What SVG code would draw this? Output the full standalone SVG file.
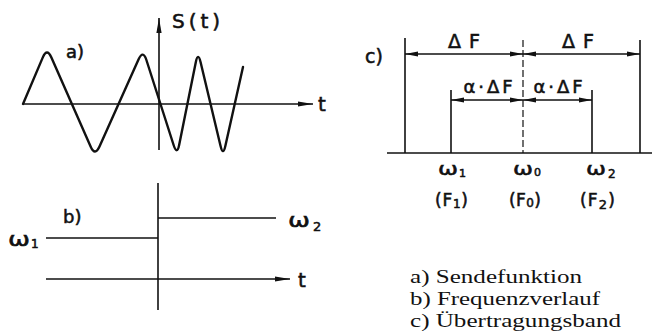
<svg xmlns="http://www.w3.org/2000/svg" width="653" height="333" viewBox="0 0 653 333">
<style>
.ln{stroke:#111;stroke-width:1.6;fill:none}
.wv{stroke:#111;stroke-width:2.4;fill:none;stroke-linejoin:round;stroke-linecap:round}
.hl{font-family:"DejaVu Sans","Liberation Sans",sans-serif;fill:#111;stroke:#111;stroke-width:0.55}
.cap{font-family:"Liberation Serif","DejaVu Serif",serif;fill:#111;font-size:18px}
</style>
<defs>
<marker id="ah" viewBox="0 -3 16 6" refX="15" refY="0" markerWidth="16" markerHeight="6" markerUnits="userSpaceOnUse" orient="auto-start-reverse" overflow="visible">
<path d="M0,-2.6 L15,0 L0,2.6 Z" fill="#111"/>
</marker>
<marker id="dh" viewBox="0 -3 14 6" refX="13" refY="0" markerWidth="14" markerHeight="6" markerUnits="userSpaceOnUse" orient="auto-start-reverse" overflow="visible">
<path d="M0,-2.4 L13,0 L0,2.4 Z" fill="#111"/>
</marker>
</defs>
<rect width="653" height="333" fill="#fff"/>

<g id="panel-a">
<line class="ln" x1="23" y1="104" x2="313" y2="104" marker-end="url(#ah)"/>
<line class="ln" x1="159" y1="150" x2="159" y2="18" marker-end="url(#ah)"/>
<path class="wv" d="M23,104 L42.7,57.6 Q47,47.5 51.4,57.6 L90.6,146.4 Q95,156.5 99.5,146.5 L138.5,59.5 Q143,49.5 146.4,60 L173.6,145 Q177,155.5 179.2,144.7 L195.8,62.3 Q198,51.5 200.6,62.2 L220.5,145.8 Q223,156.5 225.4,145.8 L243,67"/>
<text class="hl" x="172" y="28" font-size="20" textLength="48" lengthAdjust="spacing">S(t)</text>
<text class="hl" x="66" y="58" font-size="18">a)</text>
<text class="hl" x="318" y="111" font-size="20">t</text>
</g>

<g id="panel-b">
<line class="ln" x1="158" y1="183" x2="158" y2="310"/>
<line class="ln" x1="46" y1="238" x2="158" y2="238"/>
<line class="ln" x1="158" y1="218" x2="276" y2="218"/>
<line class="ln" x1="46" y1="279" x2="290" y2="279" marker-end="url(#ah)"/>
<text class="hl" x="63" y="223" font-size="18">b)</text>
<text class="hl" x="8" y="246" font-size="20" textLength="22" lengthAdjust="spacingAndGlyphs">ω</text>
<text class="hl" x="31" y="248" font-size="12">1</text>
<text class="hl" x="288" y="227" font-size="20" textLength="22" lengthAdjust="spacingAndGlyphs">ω</text>
<text class="hl" x="313" y="231" font-size="13">2</text>
<text class="hl" x="298" y="287" font-size="20">t</text>
</g>

<g id="panel-c">
<line class="ln" x1="387" y1="153" x2="652" y2="153"/>
<line class="ln" x1="405" y1="38" x2="405" y2="153"/>
<line class="ln" x1="640" y1="40" x2="640" y2="153"/>
<line class="ln" x1="451" y1="90" x2="451" y2="153"/>
<line class="ln" x1="592" y1="90" x2="592" y2="153"/>
<line x1="523" y1="40" x2="523" y2="153" stroke="#111" stroke-width="1.2" stroke-dasharray="7,3"/>
<text class="hl" x="365" y="63" font-size="19">c)</text>
<text class="hl" x="464" y="48" font-size="19" text-anchor="middle" textLength="32" lengthAdjust="spacing">ΔF</text>
<text class="hl" x="578" y="48" font-size="19" text-anchor="middle" textLength="32" lengthAdjust="spacing">ΔF</text>
<text class="hl" x="488" y="93" font-size="18" text-anchor="middle" textLength="49" lengthAdjust="spacing">α·ΔF</text>
<text class="hl" x="558" y="93" font-size="18" text-anchor="middle" textLength="49" lengthAdjust="spacing">α·ΔF</text>
<text class="hl" x="438" y="175" font-size="18" textLength="20" lengthAdjust="spacingAndGlyphs">ω</text>
<text class="hl" x="459" y="177" font-size="11">1</text>
<text class="hl" x="513" y="175" font-size="18" textLength="20" lengthAdjust="spacingAndGlyphs">ω</text>
<text class="hl" x="534" y="176" font-size="11">0</text>
<text class="hl" x="586" y="175" font-size="18" textLength="20" lengthAdjust="spacingAndGlyphs">ω</text>
<text class="hl" x="608" y="178" font-size="12">2</text>
<text class="hl" x="435" y="206" font-size="17" textLength="33" lengthAdjust="spacing">(F<tspan font-size="12" dy="2">1</tspan><tspan dy="-2">)</tspan></text>
<text class="hl" x="509" y="206" font-size="17" textLength="32" lengthAdjust="spacing">(F<tspan font-size="12" dy="1">0</tspan><tspan dy="-1">)</tspan></text>
<text class="hl" x="580" y="206" font-size="17" textLength="35" lengthAdjust="spacing">(F<tspan font-size="13" dy="3">2</tspan><tspan dy="-3">)</tspan></text>
</g>

<g id="connectors">
<line class="ln" x1="405" y1="54" x2="523" y2="54" marker-start="url(#dh)" marker-end="url(#dh)"/>
<line class="ln" x1="523" y1="54" x2="640" y2="54" marker-start="url(#dh)" marker-end="url(#dh)"/>
<line class="ln" x1="451" y1="100" x2="523" y2="100" marker-start="url(#dh)" marker-end="url(#dh)"/>
<line class="ln" x1="523" y1="100" x2="592" y2="100" marker-start="url(#dh)" marker-end="url(#dh)"/>
</g>

<g id="legend">
<text class="cap" x="410" y="283" textLength="172" lengthAdjust="spacingAndGlyphs">a) Sendefunktion</text>
<text class="cap" x="410" y="305" textLength="190" lengthAdjust="spacingAndGlyphs">b) Frequenzverlauf</text>
<text class="cap" x="410" y="327" textLength="211" lengthAdjust="spacingAndGlyphs">c) Übertragungsband</text>
</g>
</svg>
